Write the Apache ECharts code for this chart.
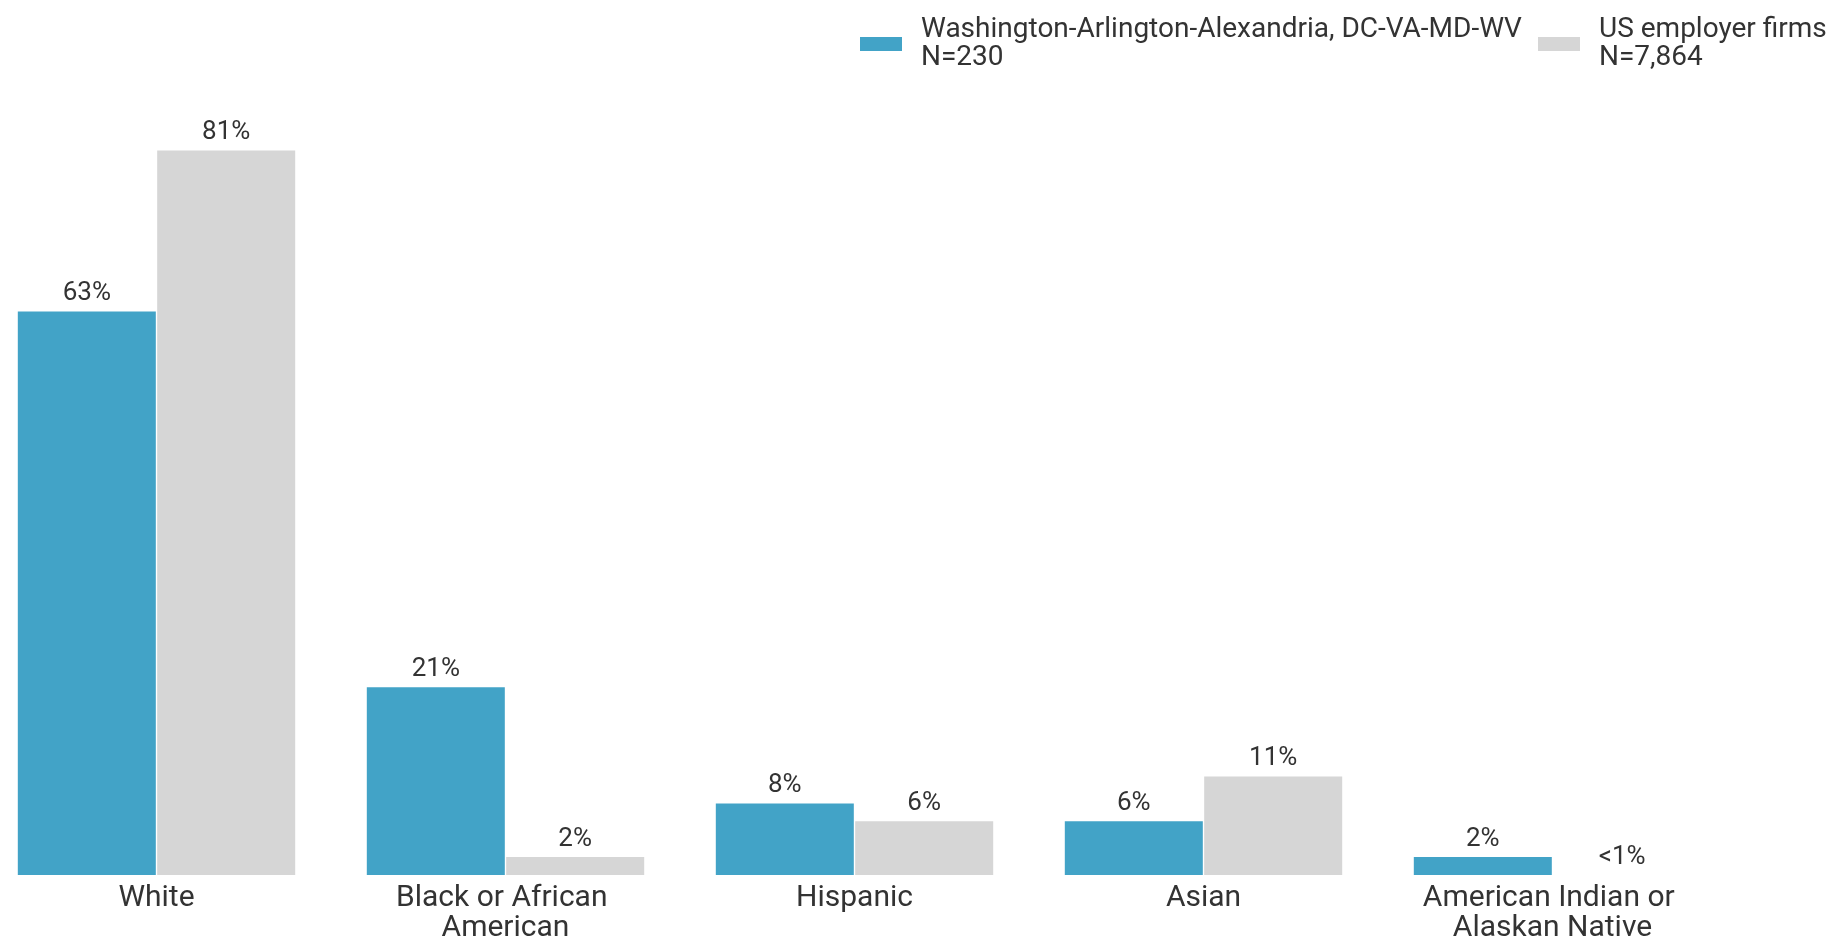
<!DOCTYPE html>
<html>
<head>
<meta charset="utf-8">
<script src="https://cdn.jsdelivr.net/npm/echarts@6/dist/echarts.min.js"></script>
<style>
  html, body { margin: 0; padding: 0; background: #fff; }
  #chart { width: 1832px; height: 943px; }
</style>
</head>
<body>
<div id="chart"></div>
<script>
const categories = ['White', 'Black or African American', 'Hispanic', 'Asian', 'American Indian or Alaskan Native'];
const metroName = 'Washington-Arlington-Alexandria, DC-VA-MD-WV\nN=230';
const usName = 'US employer firms\nN=7,864';
const metroValues = [63, 21, 8, 6, 2];
const usValues = [81, 2, 6, 11, 0];

const chart = echarts.init(document.getElementById('chart'));

// anything under 1 is shown as "<1%"
function pct(p) {
  return p.value < 1 ? '<1%' : p.value + '%';
}

const labelStyle = {
  show: true,
  position: 'top',
  distance: 5,
  fontFamily: 'Roboto',
  fontSize: 26,
  color: '#333',
  formatter: pct
};

const legendText = {
  fontFamily: 'Roboto',
  fontSize: 28,
  lineHeight: 28,
  color: '#333',
  padding: [0, 0, 8, 14]
};

const option = {
  animation: false,
  textStyle: { fontFamily: 'Roboto' },
  legend: [
    {
      left: 860,
      top: 12,
      padding: 0,
      icon: 'rect',
      itemWidth: 42,
      itemHeight: 14,
      selectedMode: false,
      textStyle: legendText,
      data: [metroName]
    },
    {
      left: 1538,
      top: 12,
      padding: 0,
      icon: 'rect',
      itemWidth: 42,
      itemHeight: 14,
      selectedMode: false,
      textStyle: legendText,
      data: [usName]
    }
  ],
  grid: {
    left: -18,
    width: 1745,
    top: 70,
    bottom: 68,
    outerBoundsMode: 'none'
  },
  xAxis: {
    type: 'category',
    data: categories,
    axisLine: { show: false },
    axisTick: { show: false },
    axisLabel: {
      interval: 0,
      margin: 8,
      fontFamily: 'Roboto',
      fontSize: 30,
      lineHeight: 30,
      color: '#333',
      width: 300,
      overflow: 'break'
    }
  },
  yAxis: {
    type: 'value',
    min: 0,
    max: 90,
    show: false,
    splitLine: { show: false }
  },
  series: [
    {
      name: metroName,
      type: 'bar',
      barWidth: 138,
      barGap: '1%',
      itemStyle: { color: '#42A3C7' },
      label: labelStyle,
      data: metroValues
    },
    {
      name: usName,
      type: 'bar',
      barWidth: 138,
      itemStyle: { color: '#D6D6D6' },
      label: labelStyle,
      data: usValues
    }
  ]
};

chart.setOption(option);
window.addEventListener('resize', () => chart.resize());
</script>
</body>
</html>
